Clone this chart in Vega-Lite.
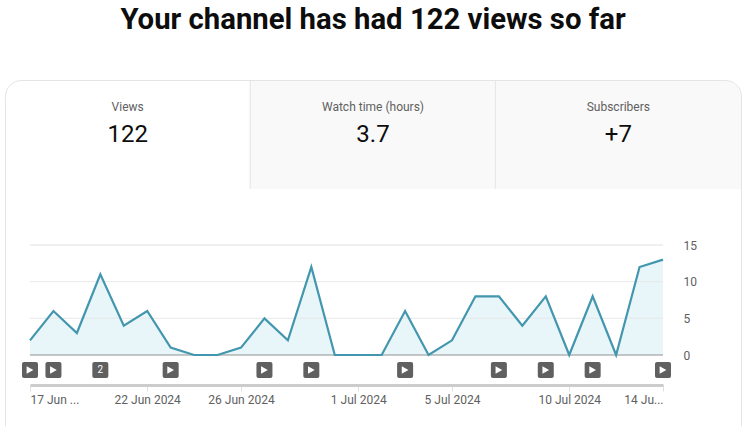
{"$schema":"https://vega.github.io/schema/vega-lite/v6.json","width":752,"height":426,"autosize":{"type":"fit","contains":"padding"},"padding":0,"background":"white","config":{"view":{"stroke":null},"text":{"font":"Roboto"},"axis":{"labelFont":"Roboto"}},"datasets":{"metrics":[{"metric":"Views","value":"122"},{"metric":"Watch time (hours)","value":"3.7"},{"metric":"Subscribers","value":"+7"}],"daily":[{"date":"2024-06-17","views":2},{"date":"2024-06-18","views":6},{"date":"2024-06-19","views":3},{"date":"2024-06-20","views":11},{"date":"2024-06-21","views":4},{"date":"2024-06-22","views":6},{"date":"2024-06-23","views":1},{"date":"2024-06-24","views":0},{"date":"2024-06-25","views":0},{"date":"2024-06-26","views":1},{"date":"2024-06-27","views":5},{"date":"2024-06-28","views":2},{"date":"2024-06-29","views":12},{"date":"2024-06-30","views":0},{"date":"2024-07-01","views":0},{"date":"2024-07-02","views":0},{"date":"2024-07-03","views":6},{"date":"2024-07-04","views":0},{"date":"2024-07-05","views":2},{"date":"2024-07-06","views":8},{"date":"2024-07-07","views":8},{"date":"2024-07-08","views":4},{"date":"2024-07-09","views":8},{"date":"2024-07-10","views":0},{"date":"2024-07-11","views":8},{"date":"2024-07-12","views":0},{"date":"2024-07-13","views":12},{"date":"2024-07-14","views":13}],"videos":[{"date":"2024-06-17","count":1,"row":"videos"},{"date":"2024-06-18","count":1,"row":"videos"},{"date":"2024-06-20","count":2,"row":"videos"},{"date":"2024-06-23","count":1,"row":"videos"},{"date":"2024-06-27","count":1,"row":"videos"},{"date":"2024-06-29","count":1,"row":"videos"},{"date":"2024-07-03","count":1,"row":"videos"},{"date":"2024-07-07","count":1,"row":"videos"},{"date":"2024-07-09","count":1,"row":"videos"},{"date":"2024-07-11","count":1,"row":"videos"},{"date":"2024-07-14","count":1,"row":"videos"}],"grid":[{"v":5,"start":"2024-06-17","end":"2024-07-14"},{"v":10,"start":"2024-06-17","end":"2024-07-14"}],"top":[{"v":15,"start":"2024-06-17","end":"2024-07-14"}],"base":[{"v":0,"start":"2024-06-17","end":"2024-07-14"}],"heading":[{"text":"Your channel has had 122 views so far"}]},"data":{"name":"daily"},"resolve":{"scale":{"x":"independent","y":"independent"},"axis":{"x":"independent","y":"independent"}},"layer":[{"data":{"name":"metrics"},"transform":[{"filter":"datum.metric == 'Watch time (hours)'"}],"mark":{"type":"rect","fill":"#f9f9f9"},"encoding":{"x":{"field":"metric","type":"nominal","axis":null,"sort":null,"scale":{"type":"band","domain":["Views","Watch time (hours)","Subscribers"],"range":[5,740.5],"paddingInner":0,"paddingOuter":0}},"y":{"datum":"top","type":"ordinal","axis":null,"scale":{"type":"point","padding":0,"domain":["top","bottom"],"range":[81,189]}},"y2":{"datum":"bottom"}}},{"data":{"name":"metrics"},"transform":[{"filter":"datum.metric == 'Subscribers'"}],"mark":{"type":"rect","fill":"#f9f9f9","cornerRadiusTopRight":16},"encoding":{"x":{"field":"metric","type":"nominal","axis":null,"sort":null,"scale":{"type":"band","domain":["Views","Watch time (hours)","Subscribers"],"range":[5,741],"paddingInner":0,"paddingOuter":0}},"y":{"datum":"top","type":"ordinal","axis":null,"scale":{"type":"point","padding":0,"domain":["top","bottom"],"range":[81,189]}},"y2":{"datum":"bottom"}}},{"data":{"name":"metrics"},"transform":[{"filter":"datum.metric != 'Views'"}],"mark":{"type":"rule","stroke":"#e4e4e4","strokeWidth":1},"encoding":{"x":{"field":"metric","type":"nominal","bandPosition":0,"axis":null,"sort":null,"scale":{"type":"band","domain":["Views","Watch time (hours)","Subscribers"],"range":[5,740.5],"paddingInner":0,"paddingOuter":0}},"y":{"datum":"top","type":"ordinal","axis":null,"scale":{"type":"point","padding":0,"domain":["top","bottom"],"range":[81,189]}},"y2":{"datum":"bottom"}}},{"data":{"values":[{"card":"outline"}]},"mark":{"type":"rect","fillOpacity":0,"stroke":"#e4e4e4","strokeWidth":1,"cornerRadius":16,"clip":true},"encoding":{"x":{"datum":0,"type":"quantitative","axis":null,"scale":{"domain":[0,1],"range":[5.5,741.5]}},"x2":{"datum":1},"y":{"datum":0,"type":"quantitative","axis":null,"scale":{"domain":[0,1],"range":[80.5,460]}},"y2":{"datum":1}}},{"data":{"name":"heading"},"mark":{"type":"text","fontSize":29.3,"fontWeight":"bold","fill":"#0d0d0d","align":"center","baseline":"middle"},"encoding":{"text":{"field":"text"},"x":{"datum":"Watch time (hours)","type":"nominal","axis":null,"scale":{"type":"band","domain":["Views","Watch time (hours)","Subscribers"],"range":[5,741],"paddingInner":0,"paddingOuter":0}},"y":{"datum":"title","type":"ordinal","axis":null,"scale":{"type":"point","padding":0,"domain":["title","below"],"range":[20,60]}}}},{"data":{"name":"metrics"},"mark":{"type":"text","fontSize":12,"fill":"#606060","align":"center","baseline":"middle"},"encoding":{"text":{"field":"metric"},"x":{"field":"metric","type":"nominal","axis":null,"sort":null,"scale":{"type":"band","domain":["Views","Watch time (hours)","Subscribers"],"range":[5,741],"paddingInner":0,"paddingOuter":0}},"y":{"datum":"label","type":"ordinal","axis":null,"scale":{"type":"point","padding":0,"domain":["label","value"],"range":[107,135]}}}},{"data":{"name":"metrics"},"mark":{"type":"text","fontSize":24,"fill":"#0d0d0d","align":"center","baseline":"middle"},"encoding":{"text":{"field":"value"},"x":{"field":"metric","type":"nominal","axis":null,"sort":null,"scale":{"type":"band","domain":["Views","Watch time (hours)","Subscribers"],"range":[5,741],"paddingInner":0,"paddingOuter":0}},"y":{"datum":"value","type":"ordinal","axis":null,"scale":{"type":"point","padding":0,"domain":["label","value"],"range":[107,135]}}}},{"mark":{"type":"area","fill":"#e8f5f9","opacity":1},"encoding":{"x":{"field":"date","type":"temporal","axis":null,"scale":{"type":"utc","domain":["2024-06-17","2024-07-14"],"range":[30,663]}},"y":{"field":"views","type":"quantitative","axis":null,"scale":{"domain":[0,15],"range":[355,245],"nice":false}}}},{"data":{"name":"grid"},"mark":{"type":"rule","stroke":"#e8e8e8","strokeWidth":1},"encoding":{"x":{"field":"start","type":"temporal","axis":null,"scale":{"type":"utc","domain":["2024-06-17","2024-07-14"],"range":[30,663]}},"x2":{"field":"end"},"y":{"field":"v","type":"quantitative","axis":null,"scale":{"domain":[0,15],"range":[355,245],"nice":false}}}},{"data":{"name":"top"},"mark":{"type":"rule","stroke":"#f0f0f0","strokeWidth":2},"encoding":{"x":{"field":"start","type":"temporal","axis":null,"scale":{"type":"utc","domain":["2024-06-17","2024-07-14"],"range":[30,663]}},"x2":{"field":"end"},"y":{"field":"v","type":"quantitative","axis":null,"scale":{"domain":[0,15],"range":[355,245],"nice":false}}}},{"data":{"name":"base"},"mark":{"type":"rule","stroke":"#909090","strokeWidth":1},"encoding":{"x":{"field":"start","type":"temporal","axis":null,"scale":{"type":"utc","domain":["2024-06-17","2024-07-14"],"range":[30,663]}},"x2":{"field":"end"},"y":{"field":"v","type":"quantitative","axis":null,"scale":{"domain":[0,15],"range":[355,245],"nice":false}}}},{"mark":{"type":"line","stroke":"#4296ae","strokeWidth":2.2},"encoding":{"x":{"field":"date","type":"temporal","scale":{"type":"utc","domain":["2024-06-17","2024-07-14"],"range":[30,663]},"axis":{"orient":"bottom","offset":-41,"title":null,"values":[{"year":2024,"month":6,"date":17,"utc":true},{"year":2024,"month":6,"date":22,"utc":true},{"year":2024,"month":6,"date":26,"utc":true},{"year":2024,"month":7,"date":1,"utc":true},{"year":2024,"month":7,"date":5,"utc":true},{"year":2024,"month":7,"date":10,"utc":true},{"year":2024,"month":7,"date":14,"utc":true}],"labelExpr":"utcdate(datum.value) == 17 ? '17 Jun ...' : utcdate(datum.value) == 14 ? '14 Ju...' : utcFormat(datum.value, '%-d %b %Y')","labelFlush":true,"labelOverlap":false,"labelFontSize":12,"labelColor":"#606060","labelPadding":3,"tickSize":6,"tickColor":"#e0e0e0","domainColor":"#cccccc","domainWidth":3,"grid":false}},"y":{"field":"views","type":"quantitative","scale":{"domain":[0,15],"range":[355,245],"nice":false},"axis":{"orient":"right","offset":-89,"title":null,"values":[0,5,10,15],"labelFontSize":12,"labelColor":"#606060","labelPadding":20,"ticks":false,"domain":false,"grid":false}}}},{"data":{"name":"videos"},"mark":{"type":"rect","width":16,"height":16,"fill":"#606060","cornerRadius":2},"encoding":{"x":{"field":"date","type":"temporal","axis":null,"scale":{"type":"utc","domain":["2024-06-17","2024-07-14"],"range":[30,663]}},"y":{"field":"row","type":"ordinal","axis":null,"scale":{"type":"point","padding":0,"domain":["videos","below"],"range":[370,400]}}}},{"data":{"name":"videos"},"transform":[{"filter":"datum.count == 1"}],"mark":{"type":"point","shape":"triangle-right","filled":true,"fill":"white","opacity":1,"size":60},"encoding":{"x":{"field":"date","type":"temporal","axis":null,"scale":{"type":"utc","domain":["2024-06-17","2024-07-14"],"range":[30,663]}},"y":{"field":"row","type":"ordinal","axis":null,"scale":{"type":"point","padding":0,"domain":["videos","below"],"range":[370,400]}}}},{"data":{"name":"videos"},"transform":[{"filter":"datum.count > 1"}],"mark":{"type":"text","fontSize":10,"fill":"white","align":"center","baseline":"middle"},"encoding":{"text":{"field":"count","type":"quantitative"},"x":{"field":"date","type":"temporal","axis":null,"scale":{"type":"utc","domain":["2024-06-17","2024-07-14"],"range":[30,663]}},"y":{"field":"row","type":"ordinal","axis":null,"scale":{"type":"point","padding":0,"domain":["videos","below"],"range":[370,400]}}}}]}
